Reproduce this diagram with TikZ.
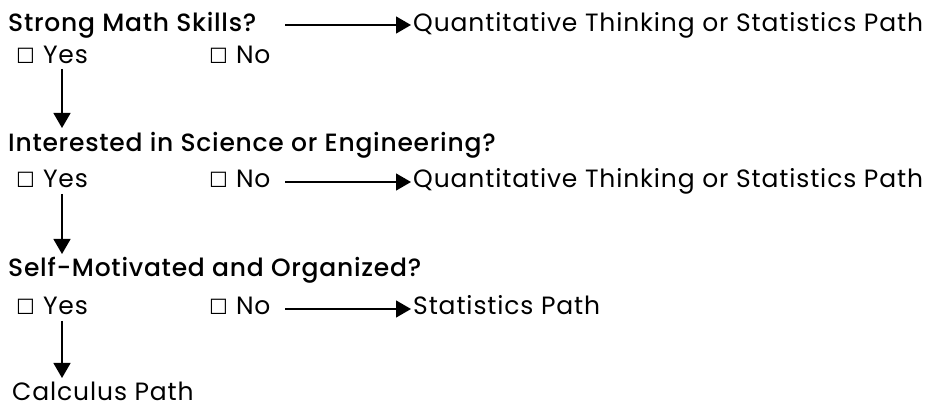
\documentclass[tikz,border=0pt]{standalone}
\usepackage{fontspec}
\setmainfont{Poppins}
\newfontfamily\qfont{Poppins Medium}[LetterSpace=3]
\newfontfamily\afont{Poppins}[LetterSpace=3.5]
\newfontfamily\boxfont{DejaVu Sans}
\usetikzlibrary{arrows.meta}
\tikzset{
  q/.style={anchor=base west, inner sep=0pt, font=\qfont\fontsize{25}{28}\selectfont},
  ans/.style={anchor=base west, inner sep=0pt, font=\afont\fontsize{25}{28}\selectfont},
  arr/.style={line width=1.3pt, -{Triangle[length=15pt,width=17pt]}}
}
\newcommand{\cbox}{{\boxfont\fontsize{21}{24}\selectfont ☐}\hspace{8pt}}
\begin{document}
\begin{tikzpicture}[x=1pt,y=-1pt]
\useasboundingbox (0,0) rectangle (938,406);
% row 1
\node[q] (q1) at (8,32) {Strong Math Skills?};
\node[ans] (r1) at (413,32) {Quantitative Thinking or Statistics Path};
\node[ans] (y1) at (16,64) {\cbox Yes};
\node[ans] (n1) at (209,64) {\cbox No};
\coordinate (a1s) at (285,25);
\coordinate (a1e) at (411,25);
\draw[arr] (a1s) -- (a1e);
% row 2
\node[q] (q2) at (8,152) {Interested in Science or Engineering?};
\node[ans] (y2) at (16,188) {\cbox Yes};
\node[ans] (n2) at (209,188) {\cbox No};
\node[ans] (r2) at (413,188) {Quantitative Thinking or Statistics Path};
\coordinate (d1s) at (62,69);
\coordinate (d1e) at (62,128);
\draw[arr] (d1s) -- (d1e);
\coordinate (a2s) at (285,182);
\coordinate (a2e) at (411,182);
\draw[arr] (a2s) -- (a2e);
% row 3
\node[q] (q3) at (8,277) {Self-Motivated and Organized?};
\node[ans] (y3) at (16,315) {\cbox Yes};
\node[ans] (n3) at (209,315) {\cbox No};
\node[ans] (r3) at (413,315) {Statistics Path};
\coordinate (d2s) at (62,194);
\coordinate (d2e) at (62,254);
\draw[arr] (d2s) -- (d2e);
\coordinate (a3s) at (285,309);
\coordinate (a3e) at (411,309);
\draw[arr] (a3s) -- (a3e);
% final
\coordinate (d3s) at (62,321);
\coordinate (d3e) at (62,378);
\draw[arr] (d3s) -- (d3e);
\node[ans] (c) at (12,400) {Calculus Path};
\end{tikzpicture}
\end{document}
